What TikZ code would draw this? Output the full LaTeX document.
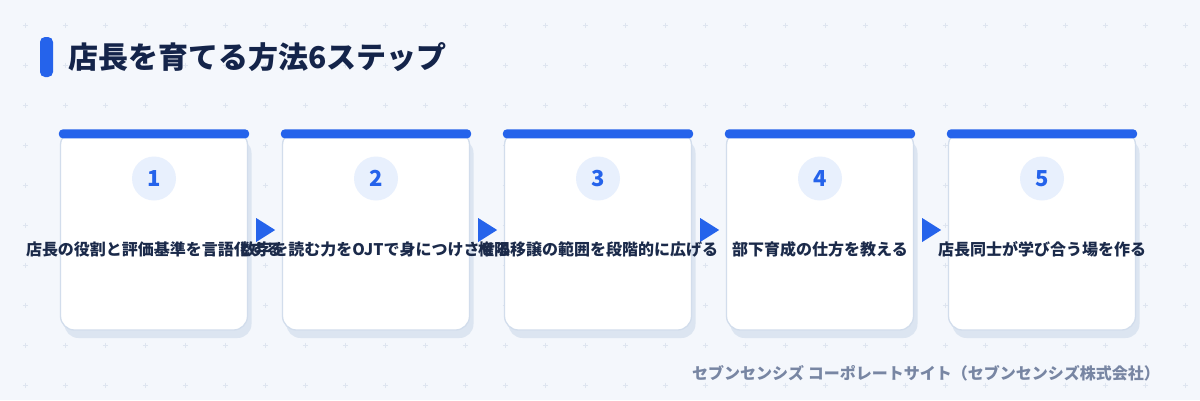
\documentclass[tikz,border=0pt]{standalone}
\usepackage{fontspec}
\setmainfont{Noto Sans CJK JP}
\usetikzlibrary{calc}
\definecolor{bg}{HTML}{F4F7FC}
\definecolor{accent}{HTML}{2563EB}
\definecolor{titlec}{HTML}{14244A}
\definecolor{textc}{HTML}{1B2A4A}
\definecolor{circc}{HTML}{E8F0FD}
\definecolor{cardline}{HTML}{D2DDEC}
\definecolor{shadowc}{HTML}{DCE5F1}
\definecolor{footc}{HTML}{7886A3}
\definecolor{plusc}{HTML}{DEE5F0}
\begin{document}
\begin{tikzpicture}[x=1pt,y=-1pt,
  card/.style={draw=cardline, line width=1.3pt, fill=white, rounded corners=14pt,
    minimum width=187pt, minimum height=199pt, inner sep=0pt},
  numcirc/.style={circle, fill=circc, minimum size=44pt, inner sep=0pt,
    text=accent, font=\fontsize{22}{26}\selectfont\bfseries},
  steptext/.style={inner sep=0pt, text=textc, font=\fontsize{16}{19}\selectfont\bfseries},
  plus/.style={draw=plusc, line width=0.7pt},
  topbar/.style={fill=accent, rounded corners=4pt},
  arrowtri/.style={fill=accent}]
\useasboundingbox (0,0) rectangle (1200,400);
\fill[bg] (0,0) rectangle (1200,400);
% faint plus grid
\foreach \i in {0,...,29}{
  \foreach \j in {0,...,9}{
    \draw[plus] ({25+40*\i-2.5},{25+40*\j}) -- ++(5,0)
                ({25+40*\i},{25+40*\j-2.5}) -- ++(0,5);
  }
}
% title
\node[fill=accent, rounded corners=5pt, minimum width=13pt, minimum height=40pt, inner sep=0pt] (bar) at (46.5,57) {};
\node[anchor=west, inner sep=0pt, text=titlec, font=\fontsize{30}{36}\selectfont\bfseries] (title) at (68,57.5) {店長を育てる方法6ステップ};
% cards
\foreach \k in {1,...,5}{
  \fill[shadowc, rounded corners=14pt] ({60.5+222*(\k-1)+4},{131+8}) rectangle ({247.5+222*(\k-1)+4},{330+8});
  \node[card] (c\k) at ({154+222*(\k-1)},230.5) {};
  \fill[topbar] ($(c\k.north west)+(-1,-1)$) rectangle ($(c\k.north east)+(1,8)$);
  \node[numcirc] (n\k) at ({154+222*(\k-1)},178.5) {\k};
}
% arrows between cards
\foreach \k in {1,...,4}{
  \fill[arrowtri] ($(c\k.east)+(8,-12.5)$) coordinate (a\k) -- ++(19,12) -- ++(-19,12) -- cycle;
}
% step texts
\node[steptext] (t1) at (154,249) {店長の役割と評価基準を言語化する};
\node[steptext] (t2) at (376,249) {数字を読む力をOJTで身につけさせる};
\node[steptext] (t3) at (598,249) {権限移譲の範囲を段階的に広げる};
\node[steptext] (t4) at (820,249) {部下育成の仕方を教える};
\node[steptext] (t5) at (1042,249) {店長同士が学び合う場を作る};
% footer
\node[anchor=east, inner sep=0pt, text=footc, font=\fontsize{16}{19}\selectfont\bfseries] (foot) at (1160,373) {セブンセンシズ コーポレートサイト（セブンセンシズ株式会社）};
\end{tikzpicture}
\end{document}
